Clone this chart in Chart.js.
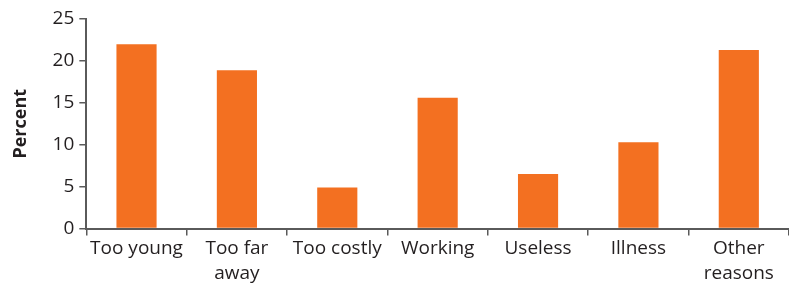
<!DOCTYPE html>
<html>
<head>
<meta charset="utf-8">
<script src="https://cdn.jsdelivr.net/npm/chart.js@4.4.1/dist/chart.umd.min.js"></script>
<style>
  html, body { margin: 0; padding: 0; background: #fff; }
  #wrap { width: 789px; height: 287px; position: relative; }
</style>
</head>
<body>
<div id="wrap"><canvas id="grafica"></canvas></div>
<script>
// reasons for not attending, percent
const categorias = [
  'Too young',
  ['Too far', 'away'],
  'Too costly',
  'Working',
  'Useless',
  'Illness',
  ['Other', 'reasons']
];
const valores = [22.0, 18.9, 4.9, 15.6, 6.5, 10.3, 21.3];
const ticksY = [0, 5, 10, 15, 20, 25];

const naranja = '#f37021';
const ejeColor = '#5a5a5a';
const fuente = "'Open Sans', 'DejaVu Sans', sans-serif";

new Chart(document.getElementById('grafica').getContext('2d'), {
  type: 'bar',
  data: {
    labels: categorias,
    datasets: [{
      data: valores,
      backgroundColor: naranja,
      borderWidth: 0,
      barPercentage: 0.4,
      categoryPercentage: 1
    }]
  },
  options: {
    responsive: true,
    maintainAspectRatio: false,
    animation: false,
    layout: { padding: { top: 19, right: 0, left: 10, bottom: 0 } },
    plugins: {
      legend: { display: false },
      tooltip: { enabled: false }
    },
    scales: {
      x: {
        grid: {
          drawOnChartArea: false,
          drawTicks: true,
          tickLength: 7,
          color: ejeColor,
          lineWidth: 1.5
        },
        border: { color: ejeColor, width: 2 },
        ticks: {
          color: '#231f20',
          font: { family: fuente, size: 19, lineHeight: 1.3 },
          maxRotation: 0,
          autoSkip: false,
          padding: 1
        }
      },
      y: {
        min: 0,
        max: 25,
        afterBuildTicks: (eje) => { eje.ticks = ticksY.map(v => ({ value: v })); },
        grid: {
          drawOnChartArea: false,
          drawTicks: true,
          tickLength: 7,
          color: ejeColor,
          lineWidth: 1.5
        },
        border: { color: ejeColor, width: 2 },
        title: {
          display: true,
          text: 'Percent',
          color: '#231f20',
          font: { family: fuente, size: 18, weight: 'bold' },
          padding: { top: 0, bottom: 16 }
        },
        ticks: {
          color: '#231f20',
          font: { family: fuente, size: 19 },
          padding: 5
        }
      }
    }
  }
});
</script>
</body>
</html>
